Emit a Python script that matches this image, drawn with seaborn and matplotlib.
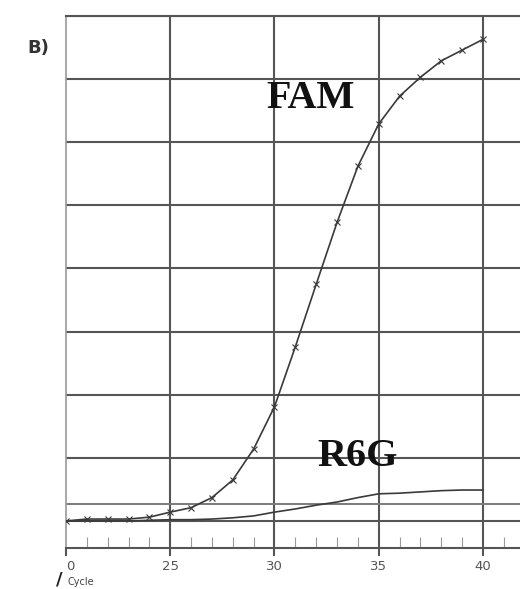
import matplotlib
matplotlib.use("Agg")
import matplotlib.pyplot as plt
import seaborn as sns
import pandas as pd
import numpy as np

# ---- data ----
cycles = list(range(20, 41))
fam = [0.00, 0.03, 0.03, 0.03, 0.06, 0.14, 0.21, 0.37, 0.65, 1.14, 1.81,
       2.76, 3.75, 4.73, 5.62, 6.29, 6.73, 7.03, 7.29, 7.46, 7.63]
r6g = [0.00, 0.00, 0.00, 0.00, 0.01, 0.02, 0.02, 0.03, 0.05, 0.08, 0.14,
       0.19, 0.25, 0.30, 0.37, 0.43, 0.44, 0.46, 0.48, 0.49, 0.49]
threshold = 0.27
x_ticks = [20, 25, 30, 35, 40]
x_tick_labels = ["0", "25", "30", "35", "40"]
y_grid = list(range(0, 9))

sns.set_style("white")
plt.rcParams['font.family'] = ['DejaVu Sans']

W, H = 520, 589
fig = plt.figure(figsize=(W / 100, H / 100), dpi=100)
ax = fig.add_axes([66 / W, 41 / H, 454 / W, 532 / H])

df_fam = pd.DataFrame({"Cycle": cycles, "Fluor": fam})
df_r6g = pd.DataFrame({"Cycle": cycles, "Fluor": r6g})

grid_c = "#555555"
# grid
for yv in y_grid:
    ax.axhline(yv, color=grid_c, lw=1.5, zorder=1)
for xv in x_ticks[1:]:
    ax.axvline(xv, color=grid_c, lw=1.5, zorder=1)
ax.axhline(threshold, color="#7a7a7a", lw=1.4, zorder=1)

sns.lineplot(data=df_r6g, x="Cycle", y="Fluor", ax=ax, color="#3a3a3a",
             lw=1.2, zorder=3)
sns.lineplot(data=df_fam, x="Cycle", y="Fluor", ax=ax, color="#3a3a3a",
             lw=1.2, marker="x", markersize=4.5, markeredgewidth=0.8,
             markeredgecolor="#3a3a3a", zorder=4)

ax.set_xlim(20, 20 + (520 - 66) / 20.85)
ax.set_ylim(-27 / 63, 8)
ax.set_xlabel("")
ax.set_ylabel("")
ax.set_yticks([])

ax.set_xticks(x_ticks)
ax.set_xticklabels(x_tick_labels, fontsize=9.5, color="#555555")
ax.set_xticks(range(20, 42), minor=True)
ax.tick_params(axis="x", which="major", direction="out", length=6,
               width=1.5, color=grid_c, pad=3, bottom=True)
ax.tick_params(axis="x", which="minor", direction="in", length=8,
               width=0.8, color="#999999", bottom=True)
lbl0 = ax.get_xticklabels()[0]
lbl0.set_horizontalalignment("left")

for s in ["top", "bottom"]:
    ax.spines[s].set_color(grid_c)
    ax.spines[s].set_linewidth(1.5)
ax.spines["left"].set_color("#9a9a9a")
ax.spines["left"].set_linewidth(1.2)
ax.spines["right"].set_visible(False)

ax.text(31.75, 6.70, "FAM", fontsize=29, fontweight="bold",
        family="Liberation Serif", color="#111111",
        ha="center", va="center", zorder=5)
ax.text(34.0, 1.02, "R6G", fontsize=29, fontweight="bold",
        family="Liberation Serif", color="#111111",
        ha="center", va="center", zorder=5)

fig.text(38 / W, 1 - 48 / H, "В)", fontsize=13, fontweight="bold",
         color="#333333", ha="center", va="center")
fig.text(59 / W, 1 - 580 / H, "/", fontsize=13, fontweight="bold",
         color="#222222", ha="center", va="center")
fig.text(68 / W, 1 - 582 / H, "Cycle", fontsize=7, color="#444444",
         ha="left", va="center")

fig.savefig("out.png", dpi=100)
